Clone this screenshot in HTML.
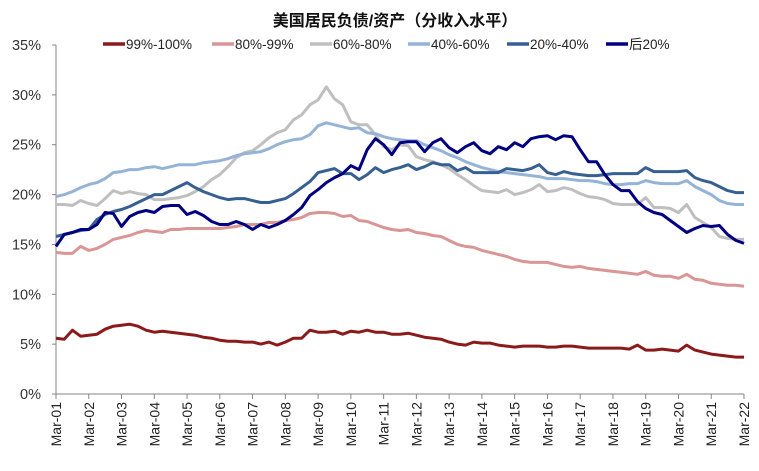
<!DOCTYPE html>
<html><head><meta charset="utf-8"><style>
html,body{margin:0;padding:0;background:#fff;}
svg{display:block;font-family:"Liberation Sans","Noto Sans CJK SC",sans-serif;}
</style></head><body>
<svg id="chart" width="759" height="471" viewBox="0 0 759 471">
<text x="395" y="26" text-anchor="middle" font-size="16" font-weight="bold" fill="#111">美国居民负债/资产（分收入水平）</text>
<g id="legend"></g>
<g id="axes"></g>
<g id="series"></g>
</svg>
<script>
const yearLabels=["Mar-01","Mar-02","Mar-03","Mar-04","Mar-05","Mar-06","Mar-07","Mar-08","Mar-09","Mar-10","Mar-11","Mar-12","Mar-13","Mar-14","Mar-15","Mar-16","Mar-17","Mar-18","Mar-19","Mar-20","Mar-21","Mar-22"];
const yTicks=[0,5,10,15,20,25,30,35];
const seriesNames=["99%-100%","80%-99%","60%-80%","40%-60%","20%-40%","后20%"];
const top1=[5.6,5.5,6.4,5.8,5.9,6.0,6.5,6.8,6.9,7.0,6.8,6.4,6.2,6.3,6.2,6.1,6.0,5.9,5.7,5.6,5.4,5.3,5.3,5.2,5.2,5.0,5.2,4.9,5.2,5.6,5.6,6.4,6.2,6.2,6.3,6.0,6.3,6.2,6.4,6.2,6.2,6.0,6.0,6.1,5.9,5.7,5.6,5.5,5.2,5.0,4.9,5.2,5.1,5.1,4.9,4.8,4.7,4.8,4.8,4.8,4.7,4.7,4.8,4.8,4.7,4.6,4.6,4.6,4.6,4.6,4.5,4.9,4.4,4.4,4.5,4.4,4.3,4.9,4.4,4.2,4.0,3.9,3.8,3.7,3.7];
const p80_99=[14.2,14.1,14.1,14.8,14.4,14.6,15.0,15.5,15.7,15.9,16.2,16.4,16.3,16.2,16.5,16.5,16.6,16.6,16.6,16.6,16.6,16.7,16.8,17.0,17.0,17.0,17.2,17.2,17.4,17.5,17.7,18.1,18.2,18.2,18.1,17.8,17.9,17.4,17.3,17.0,16.7,16.5,16.4,16.5,16.2,16.1,15.9,15.8,15.4,15.0,14.8,14.7,14.4,14.2,14.0,13.8,13.5,13.3,13.2,13.2,13.2,13.0,12.8,12.7,12.8,12.6,12.5,12.4,12.3,12.2,12.1,12.0,12.3,11.9,11.8,11.8,11.6,12.0,11.5,11.4,11.1,11.0,10.9,10.9,10.8];
const p60_80=[19.0,19.0,18.9,19.4,19.1,18.9,19.6,20.4,20.1,20.3,20.1,20.0,19.5,19.5,19.6,19.7,19.9,20.3,20.8,21.5,22.0,22.8,23.7,24.2,24.4,25.0,25.7,26.2,26.5,27.5,28.0,29.0,29.5,30.8,29.6,29.0,27.3,27.0,27.0,26.0,24.8,24.5,25.0,24.9,23.8,23.5,23.3,23.0,22.6,22.0,21.5,20.9,20.4,20.3,20.2,20.5,20.0,20.2,20.5,21.0,20.3,20.4,20.7,20.5,20.1,19.8,19.7,19.5,19.1,19.0,19.0,19.0,19.7,18.7,18.7,18.6,18.2,19.0,17.7,17.2,16.7,15.8,15.6,15.5,15.5];
const p40_60=[19.8,20.0,20.3,20.7,21.0,21.2,21.6,22.2,22.3,22.5,22.5,22.7,22.8,22.6,22.8,23.0,23.0,23.0,23.2,23.3,23.4,23.6,23.9,24.1,24.2,24.3,24.6,25.0,25.3,25.5,25.6,26.0,26.9,27.2,27.0,26.8,26.6,26.7,26.2,26.1,25.8,25.6,25.5,25.4,25.4,25.0,24.7,24.4,24.0,23.7,23.3,23.0,22.7,22.5,22.3,22.2,22.1,22.0,21.9,21.8,21.6,21.6,21.6,21.5,21.4,21.4,21.3,21.1,21.0,21.0,21.1,21.1,21.4,21.2,21.1,21.1,21.1,21.4,20.8,20.4,20.0,19.4,19.1,19.0,19.0];
const p20_40=[15.8,16.0,16.2,16.4,16.5,17.5,18.0,18.3,18.5,18.8,19.2,19.6,20.0,20.0,20.4,20.8,21.2,20.7,20.3,20.0,19.7,19.5,19.6,19.6,19.4,19.2,19.2,19.4,19.6,20.1,20.7,21.3,22.2,22.4,22.6,22.1,22.1,21.5,22.0,22.7,22.2,22.5,22.7,23.0,22.5,22.8,23.2,23.0,23.0,22.4,22.7,22.2,22.2,22.2,22.2,22.6,22.5,22.4,22.6,23.0,22.2,22.0,22.3,22.1,22.0,21.9,21.9,22.0,22.1,22.1,22.1,22.1,22.7,22.3,22.3,22.3,22.3,22.4,21.7,21.4,21.2,20.8,20.4,20.2,20.2];
const bottom20=[14.8,16.0,16.2,16.5,16.5,17.0,18.2,18.1,16.8,17.8,18.2,18.4,18.2,18.8,18.9,18.9,18.0,18.3,17.9,17.3,17.0,17.0,17.3,17.0,16.5,17.0,16.7,17.0,17.4,18.0,18.7,19.9,20.5,21.2,21.7,22.1,22.9,22.5,24.5,25.6,25.0,24.0,25.2,25.3,25.3,24.3,25.2,25.6,24.7,24.2,24.8,25.2,24.4,24.1,24.8,24.5,25.2,24.8,25.6,25.8,25.9,25.5,25.9,25.8,24.5,23.3,23.3,22.0,21.0,20.4,20.4,19.3,18.6,18.2,18.0,17.4,16.8,16.2,16.6,16.9,16.8,16.9,16.0,15.4,15.1];

const NS="http://www.w3.org/2000/svg";
const X0=56,X1=744,Y0=394,YTOP=45,YMAX=35;
const nPts=top1.length;
function xq(i){return X0+(X1-X0)*i/(nPts-1);}
function xy(k){return X0+(X1-X0)*k/(yearLabels.length-1);}
function yv(v){return Y0-(Y0-YTOP)*v/YMAX;}
function mk(tag,attrs,parent){const e=document.createElementNS(NS,tag);for(const k in attrs)e.setAttribute(k,attrs[k]);parent.appendChild(e);return e;}

const axes=document.getElementById('axes');
const yAxis=mk('line',{x1:X0,y1:YTOP,x2:X0,y2:Y0,stroke:'#868686','stroke-width':1},axes);


const xAxis=mk('line',{x1:X0,y1:Y0,x2:X1,y2:Y0,stroke:'#868686','stroke-width':1},axes);


yTicks.forEach(t=>{
  const tk=mk('line',{x1:X0-4,y1:yv(t),x2:X0,y2:yv(t),stroke:'#868686'},axes);
  
  
  const tx=mk('text',{x:41,y:yv(t)+5,'text-anchor':'end','font-size':14.5,fill:'#333'},axes);
  tx.textContent=t+'%';
  
  
});
yearLabels.forEach((l,k)=>{
  const x=xy(k);
  const tk=mk('line',{x1:x,y1:Y0,x2:x,y2:Y0+5,stroke:'#868686'},axes);
  
  
  const tx=mk('text',{x:0,y:0,'text-anchor':'end','font-size':14,fill:'#222',transform:`translate(${x+5},${Y0+8}) rotate(-90)`},axes);
  tx.textContent=l;
  
  
});

const colors=["#8b1a1a","#d99694","#bfbfbf","#95b3d7","#376092","#000080"];
const allSeries=[top1,p80_99,p60_80,p40_60,p20_40,bottom20];
const sg=document.getElementById('series');
allSeries.forEach((arr,s)=>{
  const d=arr.map((v,i)=>(i?'L':'M')+xq(i).toFixed(1)+','+yv(v).toFixed(1)).join(' ');
  const p=mk('path',{d:d,fill:'none',stroke:colors[s],'stroke-width':3,'stroke-linejoin':'round'},sg);
  
  
});

const lg=document.getElementById('legend');
const legX=[103,212,310,408,507,606];
seriesNames.forEach((n,s)=>{
  const ln=mk('line',{x1:legX[s],y1:44,x2:legX[s]+22,y2:44,stroke:colors[s],'stroke-width':3.5},lg);
  
  
  const tx=mk('text',{x:legX[s]+23,y:49,'font-size':13.5,fill:'#222'},lg);
  tx.textContent=n;
  
  
});
</script>
</body></html>
